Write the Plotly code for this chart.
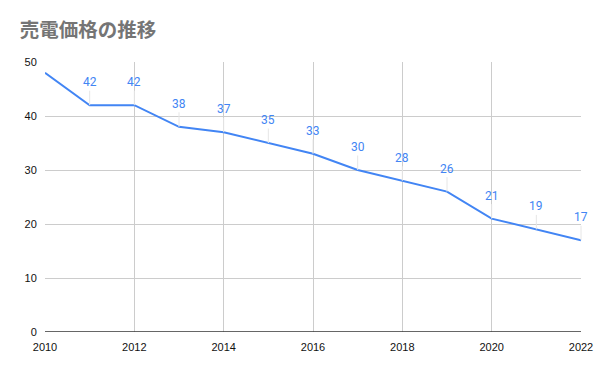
import plotly.graph_objects as go

years = [2010, 2011, 2012, 2013, 2014, 2015, 2016, 2017, 2018, 2019, 2020, 2021, 2022]
prices = [48, 42, 42, 38, 37, 35, 33, 30, 28, 26, 21, 19, 17]
labeled = [False] + [True] * 12

fig = go.Figure()
fig.add_trace(go.Scatter(x=years, y=prices, mode="lines",
                         line=dict(color="#4285F4", width=2), hoverinfo="x+y"))

for x, y, show in zip(years, prices, labeled):
    if show:
        fig.add_annotation(x=x, y=y, text=str(y), showarrow=True, arrowhead=0,
                           arrowwidth=1, arrowcolor="#e6e6e6", ax=0, ay=-23,
                           font=dict(family="Roboto, Arial", size=12, color="#4285F4"),
                           standoff=0, startstandoff=0)

fig.update_layout(
    width=600, height=371,
    margin=dict(l=45, r=19, t=62, b=39, autoexpand=False),
    paper_bgcolor="white", plot_bgcolor="white",
    showlegend=False,
    title=dict(text="<b>売電価格の推移</b>", x=0.033, xanchor="left", y=0.919, yanchor="middle",
               font=dict(family="Noto Sans CJK JP", size=19.5, color="#757575")),
    xaxis=dict(range=[2010, 2022], dtick=2, tick0=2010, showgrid=True, gridcolor="#cccccc",
               gridwidth=1, zeroline=False, showline=False, automargin=False,
               ticks="outside", ticklen=5, tickcolor="rgba(0,0,0,0)",
               tickfont=dict(family="Arial, Liberation Sans", size=11, color="#111111")),
    yaxis=dict(range=[0, 50], dtick=10, showgrid=True, gridcolor="#cccccc", gridwidth=1,
               zeroline=False, showline=False, automargin=False,
               ticks="outside", ticklen=5, tickcolor="rgba(0,0,0,0)",
               tickfont=dict(family="Arial, Liberation Sans", size=11, color="#111111")),
)
fig.add_shape(type="line", xref="paper", yref="y", x0=0, x1=1, y0=0, y1=0,
              line=dict(color="#333333", width=1.5))

fig.write_html("out.html", config={"displayModeBar": False},
               post_script="document.body.style.margin='0';document.body.style.overflow='hidden';")
